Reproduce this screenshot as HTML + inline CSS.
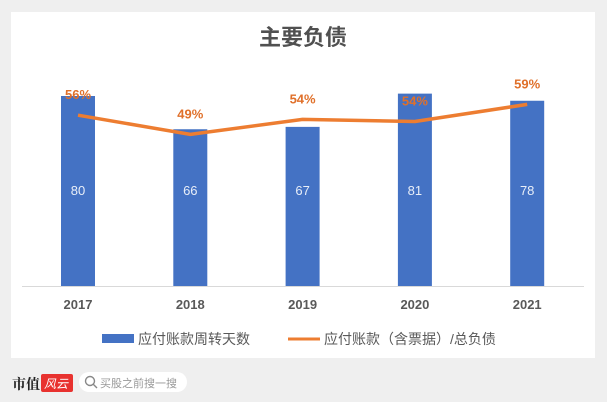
<!DOCTYPE html>
<html><head><meta charset="utf-8"><style>
body{margin:0;width:607px;height:402px;background:#efefef;overflow:hidden;font-family:"Liberation Sans","Noto Sans CJK SC",sans-serif}
#card{position:absolute;left:11px;top:12px;width:584px;height:346px;background:#fff}
</style></head><body>
<div id="card"></div>
<svg id="c" width="607" height="402" style="position:absolute;left:0;top:0"></svg>
<script>
const years=["2017","2018","2019","2020","2021"];
const days=[80,66,67,81,78];
const ratio=[55.6,49.2,54.2,53.5,59.2];
const NS="http://www.w3.org/2000/svg";
const svg=document.getElementById('c');
function mk(t,a,txt){const e=document.createElementNS(NS,t);for(const k in a)e.setAttribute(k,a[k]);if(txt!==undefined)e.textContent=txt;svg.appendChild(e);return e;}
const base=286;
const xS=i=>78+i*112.3;
const yBar=v=>base-v*2.375;
const yLine=v=>282-v*3;
const ff='"Liberation Sans","Noto Sans CJK SC",sans-serif';
let t=mk('text',{x:303,y:45,'text-anchor':'middle','font-size':22,'font-weight':'bold',fill:'#505050','font-family':ff},'主要负债');


let ax=mk('line',{x1:22,x2:584,y1:base+0.5,y2:base+0.5,stroke:'#d9d9d9','stroke-width':1});


years.forEach((y,i)=>{
 const x=xS(i),top=yBar(days[i]);
 let b=mk('rect',{x:x-17,y:top,width:34,height:base-top,fill:'#4472c4'});
 
 
 let l=mk('text',{x:x,y:195,'text-anchor':'middle','font-size':13,fill:'#e8eef8','font-family':ff},days[i]);
 
 
 let xl=mk('text',{x:x,y:309,'text-anchor':'middle','font-size':13,'font-weight':'bold',fill:'#595959','font-family':ff},y);
 
 
});
let pts=ratio.map((v,i)=>xS(i)+','+yLine(v)).join(' ');
let pl=mk('polyline',{points:pts,fill:'none',stroke:'#ed7d31','stroke-width':3.5,'stroke-linejoin':'round'});


ratio.forEach((v,i)=>{
 let l=mk('text',{x:xS(i),y:yLine(v)-16,'text-anchor':'middle','font-size':13,'font-weight':'bold',fill:'#e0702a','font-family':ff},Math.round(v)+'%');
 
 
});
let lg1=mk('rect',{x:102,y:334,width:32,height:9,fill:'#4472c4'});


let lt1=mk('text',{x:138,y:344,'font-size':14,fill:'#595959','font-family':ff},'应付账款周转天数');


let lg2=mk('line',{x1:288,x2:320,y1:339,y2:339,stroke:'#ed7d31','stroke-width':3});


let lt2=mk('text',{x:324,y:344,'font-size':14,fill:'#595959','font-family':ff},'应付账款（含票据）/总负债');


let f1=mk('text',{x:12,y:389,'font-size':14,'font-weight':'bold',fill:'#222','font-family':'"Noto Serif CJK SC",serif'},'市值');


let f2=mk('rect',{x:41,y:374,width:32,height:18,fill:'#e8322f',rx:2});


let f2t=mk('text',{x:44,y:388,'font-size':12,'font-style':'italic',fill:'#fff','font-family':ff},'风云');


let sb=mk('rect',{x:79,y:372,width:108,height:20,rx:10,fill:'#fff'});


let si=mk('circle',{cx:90,cy:381,r:4.5,fill:'none',stroke:'#888','stroke-width':1.4});


mk('line',{x1:93,y1:384,x2:97,y2:388,stroke:'#888','stroke-width':1.4});
let st=mk('text',{x:100,y:387,'font-size':11,fill:'#999','font-family':ff},'买股之前搜一搜');


</script>
</body></html>
